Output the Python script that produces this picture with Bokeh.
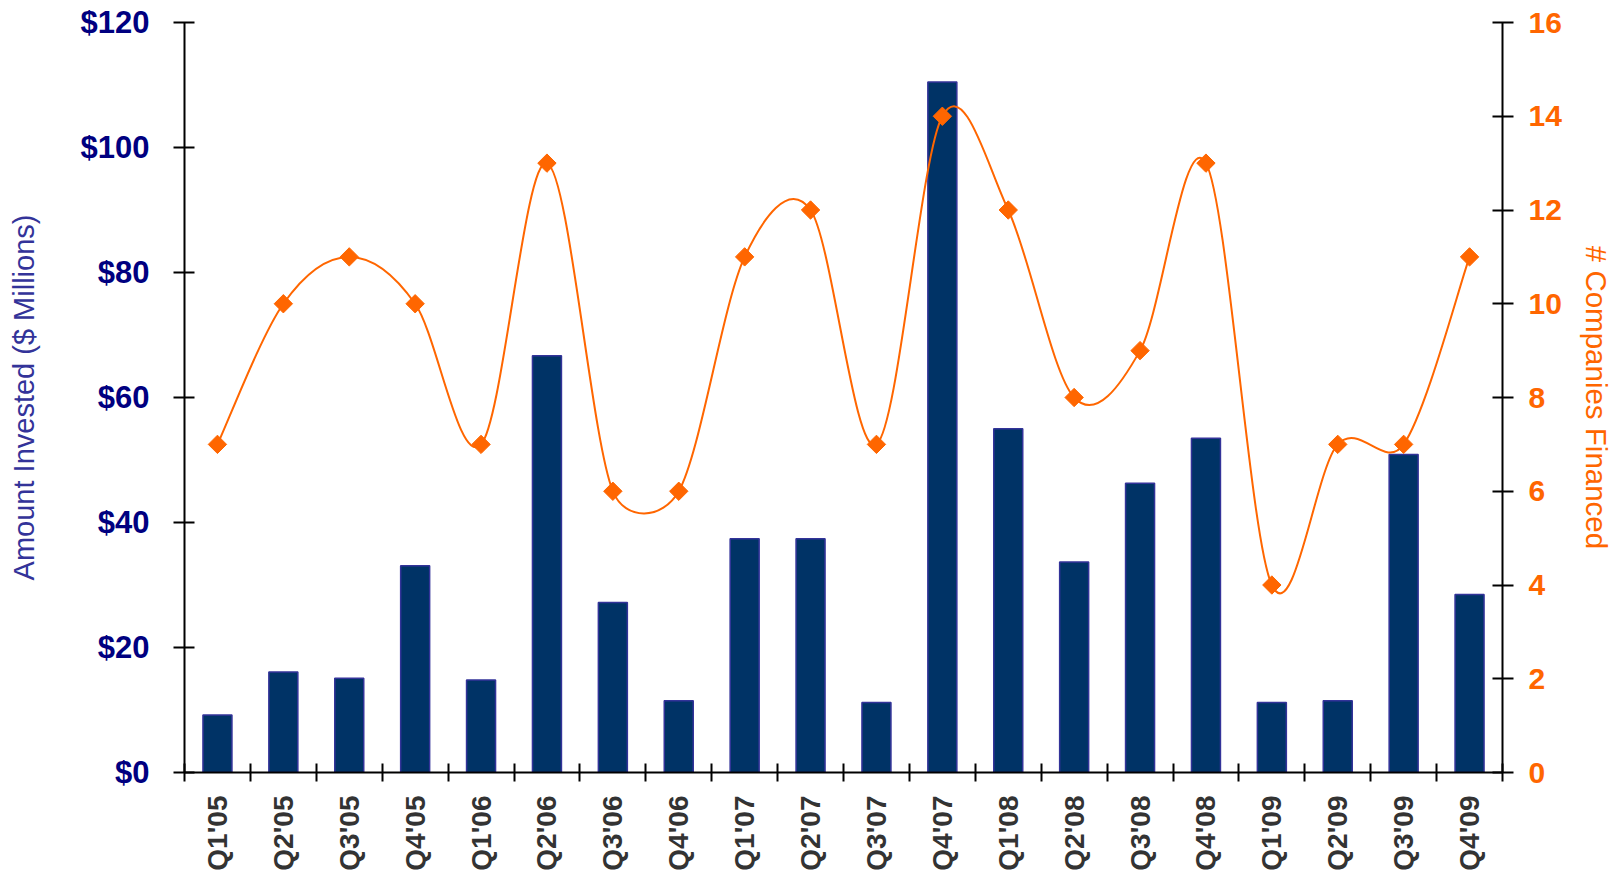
import math
from bokeh.plotting import figure
from bokeh.models import Range1d, LinearAxis, FixedTicker, NumeralTickFormatter, ColumnDataSource
from bokeh.embed import file_html
from bokeh.resources import INLINE

# ---- data ----
quarters = ["Q1'05", "Q2'05", "Q3'05", "Q4'05", "Q1'06", "Q2'06", "Q3'06", "Q4'06",
            "Q1'07", "Q2'07", "Q3'07", "Q4'07", "Q1'08", "Q2'08", "Q3'08", "Q4'08",
            "Q1'09", "Q2'09", "Q3'09", "Q4'09"]
amount_invested = [9.2, 16.1, 15.1, 33.1, 14.8, 66.7, 27.2, 11.5, 37.4, 37.4,
                   11.2, 110.5, 55.0, 33.7, 46.3, 53.5, 11.2, 11.5, 50.9, 28.5]
companies_financed = [7, 10, 11, 10, 7, 13, 6, 6, 11, 12, 7, 14, 12, 8, 9, 13, 4, 7, 7, 11]
left_ticks = [0, 20, 40, 60, 80, 100, 120]
right_ticks = [0, 2, 4, 6, 8, 10, 12, 14, 16]

n = len(quarters)
centers = [i + 0.5 for i in range(n)]

W, H = 1617, 873
BL, BR, BT, BB = 184, 115, 22, 99

p = figure(width=W, height=H, x_range=Range1d(0, n), y_range=Range1d(0, 120),
           output_backend="svg", toolbar_location=None,
           min_border_left=BL, min_border_right=BR, min_border_top=BT, min_border_bottom=BB,
           outline_line_color=None, background_fill_color="white", border_fill_color="white")
p.xgrid.visible = False
p.ygrid.visible = False
p.extra_y_ranges = {"right": Range1d(0, 16)}

# bars
src = ColumnDataSource(dict(x=centers, top=amount_invested))
p.vbar(x="x", top="top", width=0.44, bottom=0, source=src,
       fill_color="#003366", line_color="#333399", line_width=1.5)

# smoothed line: cubic bezier segments (spreadsheet-style smoothing,
# handle length = |P2-P0|/6, capped at half of the segment length)
sx = (W - BL - BR) / n          # pixels per category
sy = (H - BT - BB) / 16.0       # pixels per count

def pt(i):
    i = max(0, min(n - 1, i))
    return centers[i], companies_financed[i]

def dist(a, b):
    return math.hypot((b[0] - a[0]) * sx, (b[1] - a[1]) * sy)

bx0, by0, bx1, by1, bcx0, bcy0, bcx1, bcy1 = [], [], [], [], [], [], [], []
for i in range(n - 1):
    P0, P1, P2, P3 = pt(i - 1), pt(i), pt(i + 1), pt(i + 2)
    d12 = dist(P1, P2)
    d02 = dist(P0, P2)
    d13 = dist(P1, P3)
    f0 = 1.0 / 6.0
    f3 = 1.0 / 6.0
    if d02 > 0 and d02 / 6.0 >= d12 / 2.0:
        f0 = d12 / d02 / 2.0
    if d13 > 0 and d13 / 6.0 >= d12 / 2.0:
        f3 = d12 / d13 / 2.0
    bx0.append(P1[0]); by0.append(P1[1]); bx1.append(P2[0]); by1.append(P2[1])
    bcx0.append(P1[0] + (P2[0] - P0[0]) * f0); bcy0.append(P1[1] + (P2[1] - P0[1]) * f0)
    bcx1.append(P2[0] - (P3[0] - P1[0]) * f3); bcy1.append(P2[1] - (P3[1] - P1[1]) * f3)
p.bezier(x0=bx0, y0=by0, x1=bx1, y1=by1, cx0=bcx0, cy0=bcy0, cx1=bcx1, cy1=bcy1,
         y_range_name="right", line_color="#FF6600", line_width=2)
p.scatter(x=centers, y=companies_financed, y_range_name="right", marker="square",
          angle=math.pi / 4, size=13, fill_color="#FF6600", line_color="#FF6600")

# x axis
xa = p.xaxis[0]
xa.ticker = FixedTicker(ticks=centers, minor_ticks=list(range(n + 1)))
xa.major_label_overrides = {c: q for c, q in zip(centers, quarters)}
xa.major_label_orientation = math.pi / 2
xa.major_tick_line_color = None
xa.major_tick_in = 0
xa.major_tick_out = 9
xa.major_label_standoff = 14
xa.minor_tick_line_color = "black"
xa.minor_tick_line_width = 2
xa.minor_tick_in = 9
xa.minor_tick_out = 9
xa.axis_line_color = "black"
xa.axis_line_width = 2
xa.major_label_text_font = "Liberation Sans"
xa.major_label_text_font_style = "bold"
xa.major_label_text_font_size = "28px"
xa.major_label_text_color = "#333333"

# left axis
ya = p.yaxis[0]
ya.ticker = FixedTicker(ticks=left_ticks)
ya.formatter = NumeralTickFormatter(format="$0")
ya.minor_tick_line_color = None
ya.major_tick_in = 10
ya.major_tick_out = 11
ya.major_tick_line_width = 2
ya.major_tick_line_color = "black"
ya.axis_line_width = 2
ya.axis_line_color = "black"
ya.major_label_standoff = 24
ya.major_label_text_font = "Liberation Sans"
ya.major_label_text_font_style = "bold"
ya.major_label_text_font_size = "31px"
ya.major_label_text_color = "#000080"
ya.axis_label = "Amount Invested ($ Millions)"
ya.axis_label_text_font = "Liberation Sans"
ya.axis_label_text_font_style = "normal"
ya.axis_label_text_font_size = "29px"
ya.axis_label_text_color = "#333399"
ya.axis_label_standoff = 38

# right axis
ra = LinearAxis(y_range_name="right", ticker=FixedTicker(ticks=right_ticks))
ra.minor_tick_line_color = None
ra.major_tick_in = 10
ra.major_tick_out = 11
ra.major_tick_line_width = 2
ra.major_tick_line_color = "black"
ra.axis_line_width = 2
ra.axis_line_color = "black"
ra.major_label_standoff = 15
ra.major_label_text_font = "Liberation Sans"
ra.major_label_text_font_style = "bold"
ra.major_label_text_font_size = "30px"
ra.major_label_text_color = "#FF6600"
ra.axis_label = "# Companies Financed"
ra.axis_label_text_font = "Liberation Sans"
ra.axis_label_text_font_style = "normal"
ra.axis_label_text_font_size = "29.5px"
ra.axis_label_text_color = "#FF6600"
ra.axis_label_standoff = 15
p.add_layout(ra, "right")

open("out.html", "w").write(file_html(p, INLINE))
